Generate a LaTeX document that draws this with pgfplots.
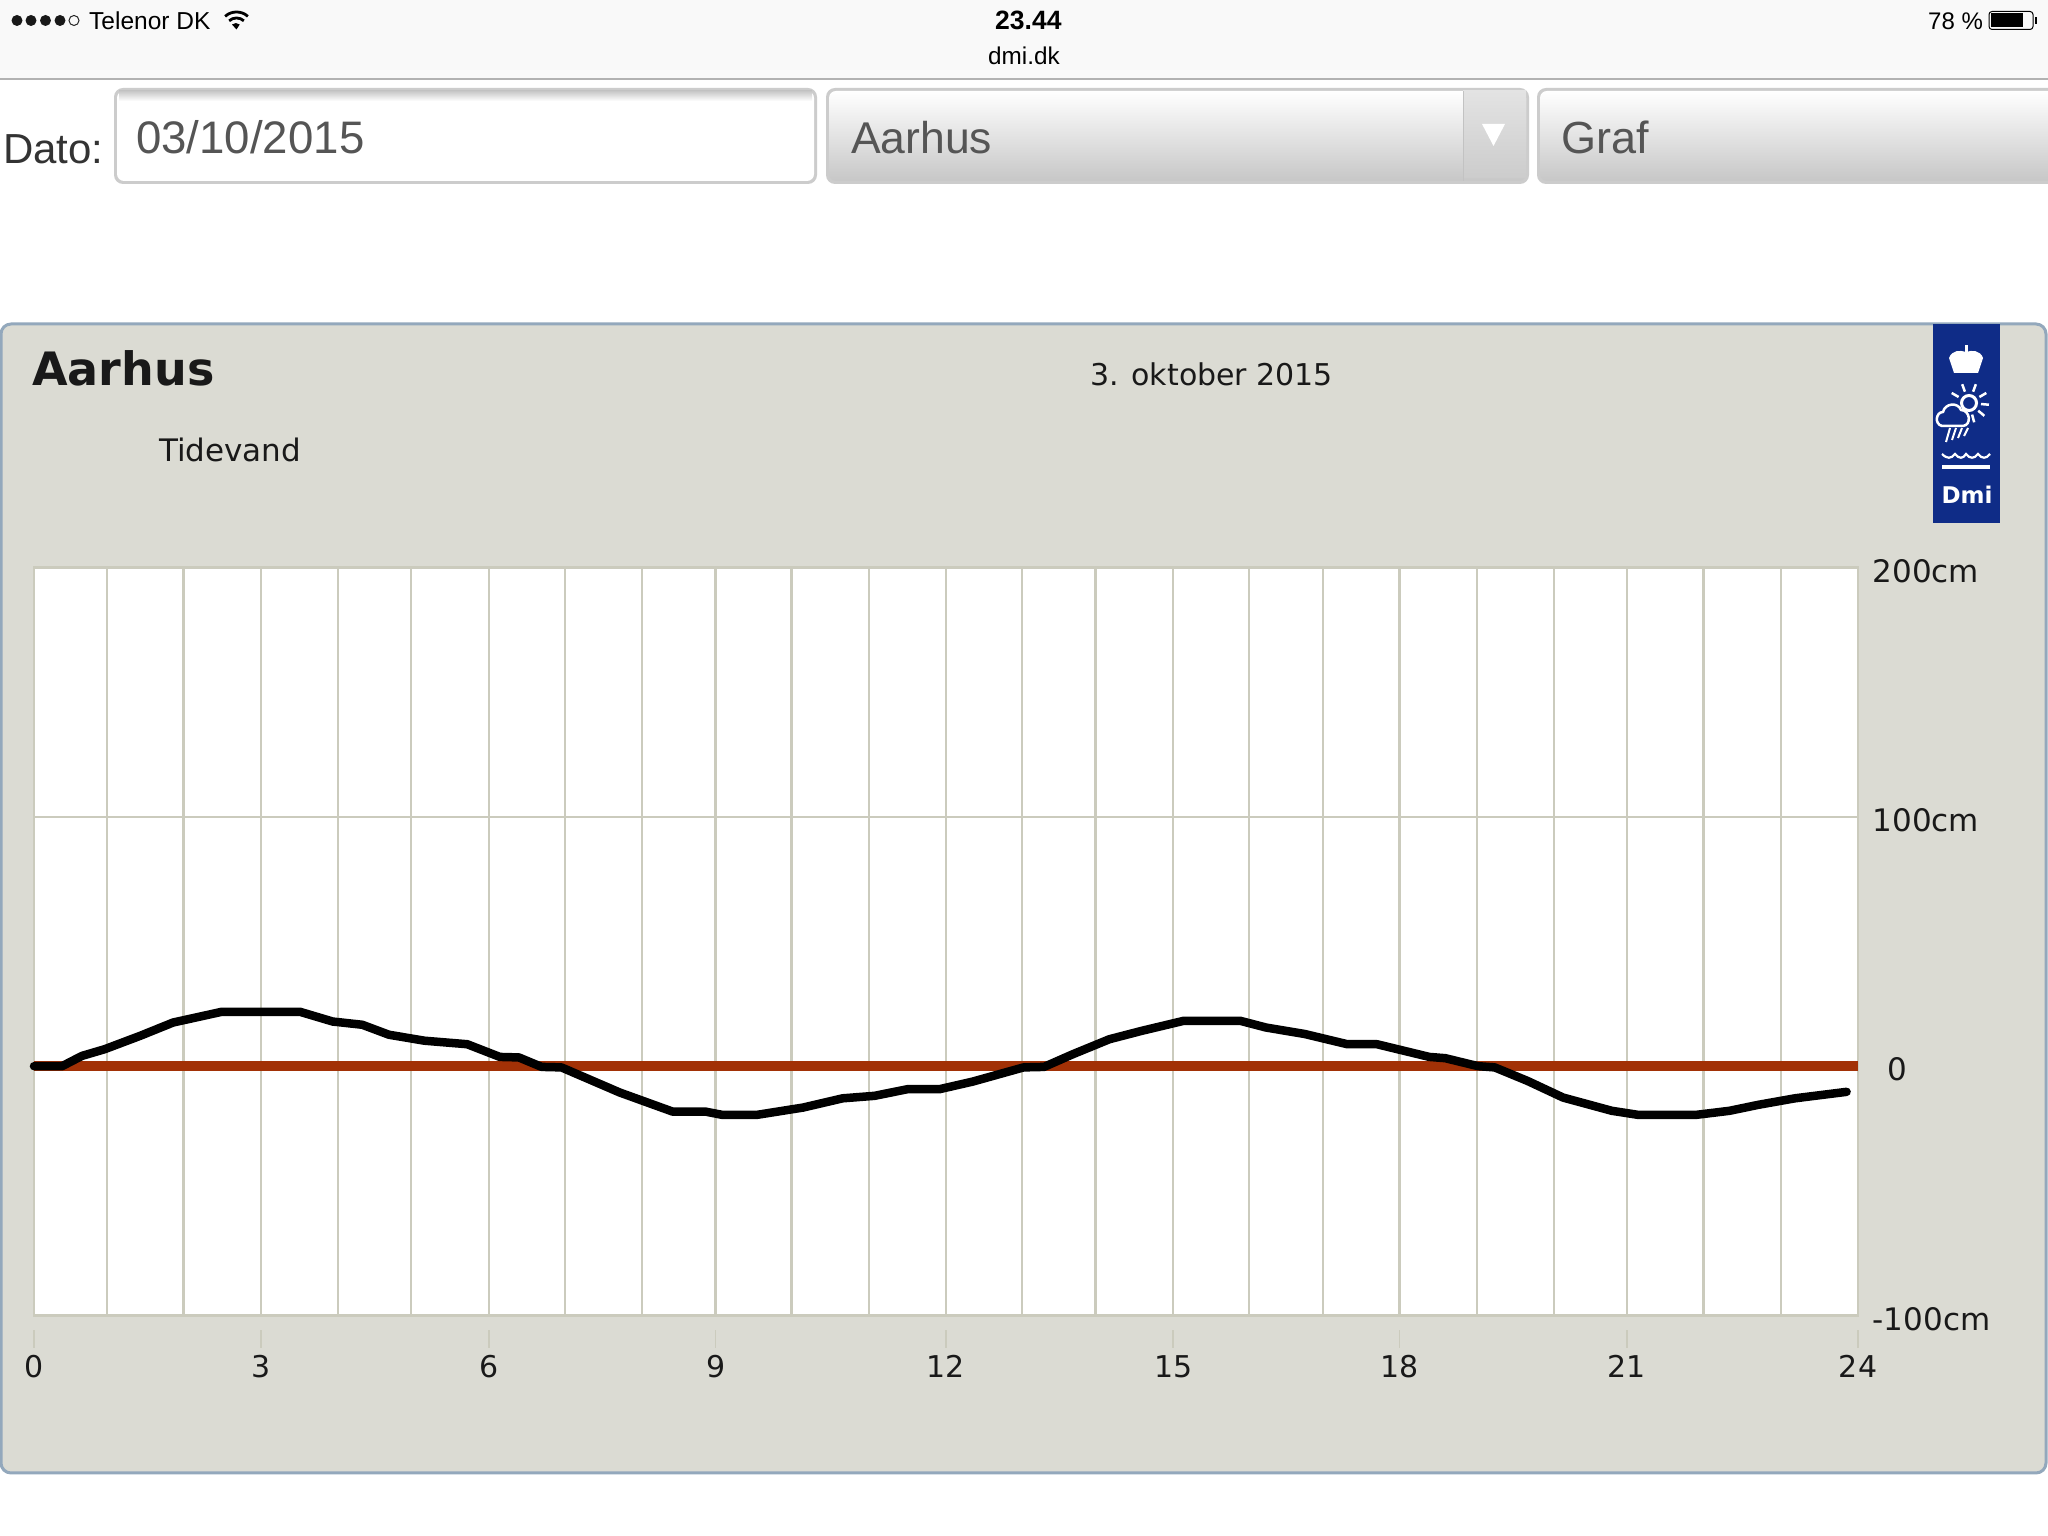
\documentclass[border=0pt]{standalone}
\usepackage{fontspec}
\usepackage{pgfplots}
\pgfplotsset{compat=1.18}
\setmainfont{DejaVu Sans}
\newfontfamily\hv{Liberation Sans}
\definecolor{panel}{HTML}{DBDBD3}
\definecolor{panelline}{HTML}{93A8BC}
\definecolor{gridc}{HTML}{CBCBBD}
\definecolor{tide}{HTML}{A23106}
\definecolor{dmiblue}{HTML}{0F2C87}
\definecolor{fieldtxt}{HTML}{555555}
\newcommand{\fs}[1]{\fontsize{#1}{#1}\selectfont}
\begin{document}
\begin{tikzpicture}
% page chrome, coordinates are screenshot pixels (y down)
\begin{scope}[x=1pt,y=-1pt,shift={(0,-1536)}]
\path[use as bounding box] (0,0) rectangle (2048,1536);
\fill[white] (0,0) rectangle (2048,1536);
\fill[black!2.5] (0,0) rectangle (2048,79);
\draw[black!30,line width=1.5pt] (0,79) -- (2048,79);
% status bar
\foreach \x in {17,31,45.5,60} \fill[black!90] (\x,20.5) circle (5.5);
\draw[black!85,line width=1pt] (74,20.5) circle (5);
\node[anchor=base west,inner sep=0,font=\hv\fs{24.5}] at (89,29.3) {Telenor DK};
\foreach \r in {17,11} \draw[black,line width=2.8pt] (236.5,29)++(-48:\r) arc (-48:-132:\r);
\fill[black] (236.5,29.5) -- (232,24.5) arc (-130:-50:6) -- cycle;
\node[anchor=base west,inner sep=0,font=\hv\bfseries\fs{26.5}] at (995,30) {23.44};
\node[anchor=base west,inner sep=0,font=\hv\fs{24.3}] at (988,64.3) {dmi.dk};
\node[anchor=base west,inner sep=0,font=\hv\fs{24}] at (1928,30) {78 \%};
\draw[black,line width=1pt,rounded corners=3] (1989,11.5) rectangle (2033,29.5);
\fill[black] (1991,13.5) rectangle (2023,27.5);
\fill[black] (2035,17) rectangle (2037,24);
% form fields
\node[anchor=base west,inner sep=0,font=\hv\fs{42},text=black!80] at (3,163.3) {Dato:};
\fill[black!20,rounded corners=9] (114,88) rectangle (817,184);
\fill[white,rounded corners=7] (117,91) rectangle (814,181);
\shade[top color=black!22,bottom color=white] (119,91) rectangle (812,101);
\node[anchor=base west,inner sep=0,font=\hv\fs{45.6},text=fieldtxt] at (136,153.3) {03/10/2015};
\fill[black!20,rounded corners=9] (826,88) rectangle (1529,184);
\shade[top color=white,bottom color=black!22,rounded corners=7] (829,91) rectangle (1526,181);
\shade[top color=black!11,bottom color=black!20] (1463,91) rectangle (1526,178);
\draw[black!24,line width=1pt] (1463,91) -- (1463,181);
\fill[white] (1482,124) -- (1505,124) -- (1493.5,146) -- cycle;
\node[anchor=base west,inner sep=0,font=\hv\fs{44.5},text=fieldtxt] at (851,153.3) {Aarhus};
\fill[black!20,rounded corners=9] (1537,88) rectangle (2070,184);
\shade[top color=white,bottom color=black!22,rounded corners=7] (1540,91) rectangle (2070,181);
\node[anchor=base west,inner sep=0,font=\hv\fs{45},text=fieldtxt] at (1561,153.3) {Graf};
% chart panel
\draw[panelline,fill=panel,line width=3pt,rounded corners=10] (1,324) rectangle (2046,1473);
\node[anchor=base west,inner sep=0,font=\bfseries\fs{46},text=black!90] at (32,386) {Aarhus};
\node[anchor=base west,inner sep=0,font=\fs{31},text=black!90] at (159,462) {Tidevand};
\node[anchor=base west,inner sep=0,font=\fs{30},text=black!90] at (1090,386) {3. oktober 2015};
% DMI logo
\fill[dmiblue] (1933,324) rectangle (2000,523);
\fill[white] (1954,373) -- (1978,373) -- (1983,358) .. controls (1980,350) and (1972,350) .. (1966,352)
    .. controls (1960,350) and (1952,350) .. (1949,358) -- cycle;
\fill[white] (1964.5,345) rectangle (1967.5,353);
\draw[white,line width=3pt] (1969,403) circle (7.5);
\foreach \a in {-70,-30,5,40,75,-110,-150} \draw[white,line width=2.5pt] (1969,403)++(\a:12) -- ++(\a:8);
\draw[white,fill=dmiblue,line width=2.5pt,line join=round] (1942,426) .. controls (1934,424) and (1936,412) .. (1943,412)
    .. controls (1945,403) and (1958,402) .. (1961,410) .. controls (1970,410) and (1972,425) .. (1963,426) -- cycle;
\foreach \x/\l in {1950/14,1956/12,1962/10,1968/8} \draw[white,line width=2pt] (\x,428) -- ++(-4,\l);
\draw[white,line width=2.2pt] (1942,454) .. controls (1947,459) and (1951,459) .. (1955,454) .. controls (1959,459) and (1963,459) .. (1966,454)
    .. controls (1970,459) and (1974,459) .. (1978,454) .. controls (1982,459) and (1986,459) .. (1990,454);
\fill[white] (1942,465) rectangle (1990,469);
\node[anchor=base,inner sep=0,font=\bfseries\fs{23},text=white] at (1967,503.5) {Dmi};
\end{scope}
% main axis, 1 px = 1 pt, 100 cm = 249 px
\begin{axis}[
    at={(34pt,220.5pt)}, anchor=south west,
    scale only axis, width=1824pt, height=748pt,
    xmin=0, xmax=24, ymin=-100, ymax=200,
    axis background/.style={fill=white},
    axis line style={gridc,line width=2.5pt},
    % the hour lines are not quite evenly spaced in the screenshot
    xtick={0,0.96,1.97,2.99,4,4.96,5.99,6.99,8,8.97,9.97,10.99,12,13,13.97,14.99,15.99,16.96,17.97,18.99,20,20.96,21.97,22.99,24},
    xticklabels={},
    ytick={-100,0,100,200},
    yticklabels={-100cm,\hspace{15pt}0,100cm,200cm},
    ticklabel pos=right,
    y tick label style={anchor=west,inner sep=0pt,xshift=14.5pt,yshift=-3.5pt,font=\fs{31},text=black!90},
    major tick length=0pt,
    grid=major,
    grid style={gridc,line width=2.5pt},
    clip=false,
]
\addplot[tide,line width=10pt] coordinates {(0,0) (24,0)};
\addplot[black,line width=8.5pt,line cap=round,line join=round] coordinates {
    (0,0) (0.37,0) (0.63,4.1) (0.93,6.8) (1.4,12.2) (1.83,17.5) (2.47,21.8) (3.5,21.8)
    (3.93,17.9) (4.32,16.6) (4.67,12.6) (5.14,10.2) (5.7,8.8) (6.13,3.7) (6.38,3.5)
    (6.68,-0.3) (6.94,-0.5) (7.71,-10.6) (8.4,-18.2) (8.83,-18.2) (9.05,-19.5) (9.52,-19.5)
    (10.12,-16.6) (10.64,-12.9) (11.06,-11.9) (11.5,-9.2) (11.92,-9.2) (12.35,-6.2)
    (13.02,-0.5) (13.29,-0.3) (13.67,4.8) (14.15,10.8) (14.58,14.2) (15.13,18.2) (15.87,18.2)
    (16.21,15.5) (16.72,12.9) (17.28,8.8) (17.67,8.8) (18.36,3.7) (18.57,3.2) (19.0,0)
    (19.22,-0.5) (19.65,-5.9) (20.12,-12.6) (20.76,-17.9) (21.1,-19.5) (21.88,-19.5)
    (22.31,-17.9) (22.69,-15.5) (23.17,-12.9) (23.85,-10.3)
};
\end{axis}
% the hour ticks stand apart from the plot, so they get their own axis
\begin{axis}[
    at={(34pt,206pt)}, anchor=south west,
    scale only axis, width=1824pt, height=747pt,
    xmin=0, xmax=24, ymin=-100, ymax=200,
    axis line style={draw=none},
    axis x line=bottom, axis y line=none,
    xtick={0,2.99,5.99,8.97,12,14.99,17.97,20.96,24},
    xticklabels={0,3,6,9,12,15,18,21,24},
    tick align=outside,
    x axis line style={draw=none,-},
    major tick length=18pt,
    tick style={gridc,line width=1.5pt},
    x tick label style={inner sep=0pt,yshift=-7pt,font=\fs{30},text=black!90},
]
\end{axis}
\end{tikzpicture}
\end{document}
